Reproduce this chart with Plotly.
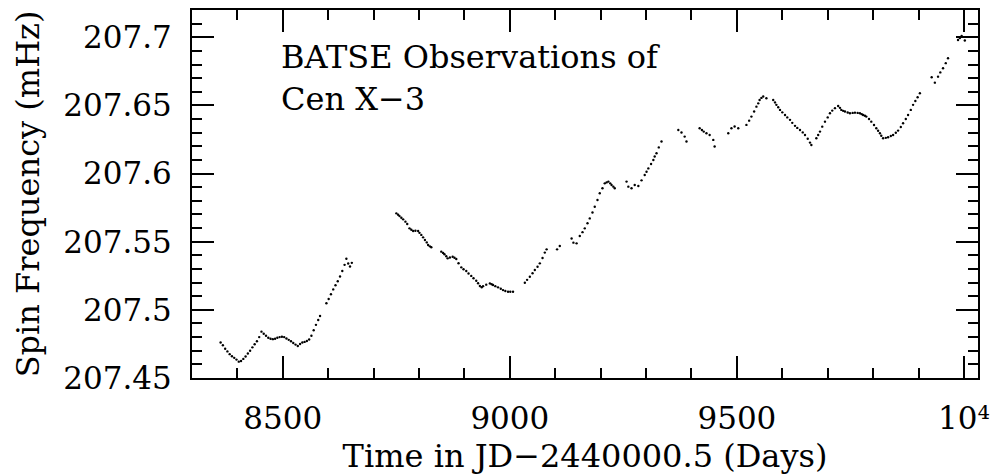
import plotly.graph_objects as go

# Segment data (days, mHz)
t_a = [8363, 8368, 8373, 8378, 8383, 8388, 8393, 8398, 8403, 8408, 8413, 8418, 8423, 8428,
       8433, 8438, 8443, 8448, 8453, 8458, 8463, 8468, 8473, 8478, 8483, 8488, 8493, 8498,
       8503, 8508, 8513, 8518, 8523, 8528, 8533, 8538, 8543, 8548, 8553, 8558, 8563, 8568,
       8573, 8578, 8582, 8596, 8601, 8606, 8611, 8616, 8621, 8626, 8631, 8636, 8640, 8644,
       8648, 8652]
f_a = [207.4760, 207.4740, 207.4715, 207.4695, 207.4675, 207.4660, 207.4648, 207.4635,
       207.4620, 207.4625, 207.4640, 207.4658, 207.4680, 207.4700, 207.4725, 207.4748,
       207.4770, 207.4800, 207.4840, 207.4825, 207.4810, 207.4795, 207.4788, 207.4785,
       207.4788, 207.4795, 207.4800, 207.4803, 207.4800, 207.4790, 207.4780, 207.4770,
       207.4757, 207.4745, 207.4735, 207.4750, 207.4760, 207.4765, 207.4772, 207.4782,
       207.4810, 207.4850, 207.4890, 207.4925, 207.4955, 207.5048, 207.5080, 207.5115,
       207.5150, 207.5180, 207.5210, 207.5245, 207.5285, 207.5330, 207.5375, 207.5340,
       207.5318, 207.5345]

t_b = [8750, 8754, 8757, 8761, 8765, 8770, 8774, 8779, 8783, 8787, 8792, 8798, 8801, 8805,
       8809, 8813, 8817, 8820, 8824, 8827, 8849, 8853, 8856, 8860, 8863, 8868, 8874, 8878,
       8882, 8887, 8893, 8898, 8904, 8909, 8915, 8920, 8926, 8930, 8934, 8938, 8941, 8948,
       8956, 8960, 8963, 8968, 8974, 8980, 8985, 8990, 8996, 9001, 9007]
f_b = [207.5708, 207.5698, 207.5688, 207.5676, 207.5664, 207.5647, 207.5630, 207.5598,
       207.5588, 207.5578, 207.5580, 207.5578, 207.5565, 207.5550, 207.5532, 207.5513,
       207.5495, 207.5476, 207.5466, 207.5459, 207.5427, 207.5418, 207.5408, 207.5393,
       207.5378, 207.5384, 207.5390, 207.5382, 207.5373, 207.5342, 207.5312, 207.5298,
       207.5285, 207.5267, 207.5249, 207.5232, 207.5214, 207.5195, 207.5175, 207.5166,
       207.5174, 207.5185, 207.5194, 207.5188, 207.5182, 207.5174, 207.5165, 207.5155,
       207.5145, 207.5138, 207.5133, 207.5133, 207.5133]

t_c = [9033, 9038, 9044, 9050, 9055, 9061, 9066, 9072, 9077, 9081, 9104, 9110, 9136, 9140,
       9147, 9154, 9160, 9165, 9171, 9176, 9182, 9187, 9193, 9198, 9204, 9209, 9213, 9217,
       9221, 9224, 9228, 9231, 9257, 9261, 9268, 9275, 9283, 9290, 9297, 9301, 9305, 9311,
       9316, 9319, 9323, 9328, 9334]
f_c = [207.5199, 207.5220, 207.5243, 207.5268, 207.5292, 207.5316, 207.5341, 207.5380,
       207.5420, 207.5444, 207.5444, 207.5468, 207.5524, 207.5493, 207.5488, 207.5542,
       207.5570, 207.5598, 207.5635, 207.5671, 207.5714, 207.5757, 207.5806, 207.5855,
       207.5892, 207.5928, 207.5935, 207.5941, 207.5928, 207.5916, 207.5904, 207.5892,
       207.5941, 207.5904, 207.5892, 207.5916, 207.5909, 207.5950, 207.5989, 207.6013,
       207.6038, 207.6070, 207.6100, 207.6125, 207.6149, 207.6192, 207.6235]

t_d = [9371, 9378, 9385, 9389, 9418, 9423, 9427, 9433, 9440, 9448, 9451, 9481, 9488, 9495,
       9503, 9521, 9527, 9532, 9538, 9543, 9547, 9550, 9554, 9558, 9565, 9580, 9584, 9587,
       9591, 9595, 9600, 9606, 9611, 9617, 9622, 9628, 9633, 9639, 9645, 9650, 9656, 9661,
       9664]
f_d = [207.6320, 207.6301, 207.6271, 207.6235, 207.6332, 207.6320, 207.6308, 207.6296,
       207.6283, 207.6247, 207.6198, 207.6296, 207.6332, 207.6345, 207.6332, 207.6357,
       207.6388, 207.6418, 207.6455, 207.6491, 207.6515, 207.6540, 207.6555, 207.6565,
       207.6553, 207.6540, 207.6522, 207.6504, 207.6486, 207.6467, 207.6449, 207.6430,
       207.6412, 207.6394, 207.6372, 207.6350, 207.6335, 207.6320, 207.6302, 207.6283,
       207.6255, 207.6227, 207.6210]

t_e = [9675, 9679, 9683, 9688, 9694, 9700, 9705, 9710, 9716, 9723, 9727, 9730, 9734, 9738,
       9744, 9749, 9755, 9760, 9766, 9771, 9775, 9778, 9782, 9785, 9791, 9796, 9802, 9807,
       9811, 9815, 9818, 9822, 9828, 9833, 9839, 9844, 9850, 9855, 9861, 9866, 9872, 9877,
       9883, 9888, 9893, 9898, 9903]
f_e = [207.6259, 207.6283, 207.6308, 207.6344, 207.6381, 207.6412, 207.6442, 207.6462,
       207.6480, 207.6496, 207.6482, 207.6467, 207.6460, 207.6455, 207.6448, 207.6442,
       207.6445, 207.6447, 207.6445, 207.6442, 207.6436, 207.6430, 207.6424, 207.6418,
       207.6400, 207.6381, 207.6356, 207.6332, 207.6314, 207.6296, 207.6277, 207.6259,
       207.6262, 207.6266, 207.6275, 207.6283, 207.6299, 207.6315, 207.6342, 207.6369,
       207.6400, 207.6430, 207.6467, 207.6504, 207.6532, 207.6560, 207.6589]

t_f = [9929, 9936, 9943, 9948, 9954, 9960, 9965, 9987, 9991, 9995, 10002]
f_f = [207.6707, 207.6667, 207.6711, 207.6742, 207.6773, 207.6810, 207.6846, 207.6980,
       207.6995, 207.7010, 207.6976]

x_tickvals = [8500, 9000, 9500, 10000]
x_ticktext = ["8500", "9000", "9500", "10⁴"]
y_tickvals = [207.45, 207.5, 207.55, 207.6, 207.65, 207.7]
y_ticktext = ["207.45", "207.5", "207.55", "207.6", "207.65", "207.7"]

t_all = t_a + t_b + t_c + t_d + t_e + t_f
f_all = f_a + f_b + f_c + f_d + f_e + f_f

font_family = "DejaVu Serif"

fig = go.Figure()
fig.add_trace(go.Scatter(
    x=t_all, y=f_all, mode="markers",
    marker=dict(color="black", size=2.4, line=dict(width=0)),
    showlegend=False, hoverinfo="x+y",
))

axis_common = dict(
    showline=True, linecolor="black", linewidth=2, mirror="allticks",
    ticks="inside", tickcolor="black", tickwidth=2, ticklen=22,
    showgrid=False, zeroline=False, automargin=False,
    tickfont=dict(family=font_family, size=31, color="black"),
)

fig.update_xaxes(
    range=[8300, 10031], tickmode="array", tickvals=x_tickvals, ticktext=x_ticktext,
    minor=dict(ticks="inside", tick0=8300, dtick=100, ticklen=10, tickwidth=1.5,
               tickcolor="black", showgrid=False),
    title=dict(text="Time in JD−2440000.5 (Days)",
               font=dict(family=font_family, size=32, color="black"), standoff=18),
    ticklabelstandoff=12,
    **axis_common,
)
fig.update_yaxes(
    range=[207.45, 207.72], tickmode="array", tickvals=y_tickvals, ticktext=y_ticktext,
    minor=dict(ticks="inside", tick0=207.45, dtick=0.01, ticklen=10, tickwidth=1.5,
               tickcolor="black", showgrid=False),
    title=dict(text="Spin Frequency (mHz)",
               font=dict(family=font_family, size=32, color="black"), standoff=14),
    ticklabelstandoff=12,
    **axis_common,
)

fig.add_annotation(
    xref="paper", yref="paper", x=0.1107, y=0.93, xanchor="left", yanchor="top",
    text="BATSE Observations of<br>Cen X−3", showarrow=False, align="left",
    font=dict(family=font_family, size=32, color="black"),
)

fig.update_layout(
    width=993, height=475,
    margin=dict(l=192, r=15, t=10, b=97),
    paper_bgcolor="white", plot_bgcolor="white",
)

# Remove the browser's default page margin so the figure fills the window exactly.
fig.write_html("out.html",
               config={"displayModeBar": False},
               post_script="document.body.style.margin='0px';"
                           "document.body.style.overflow='hidden';")
